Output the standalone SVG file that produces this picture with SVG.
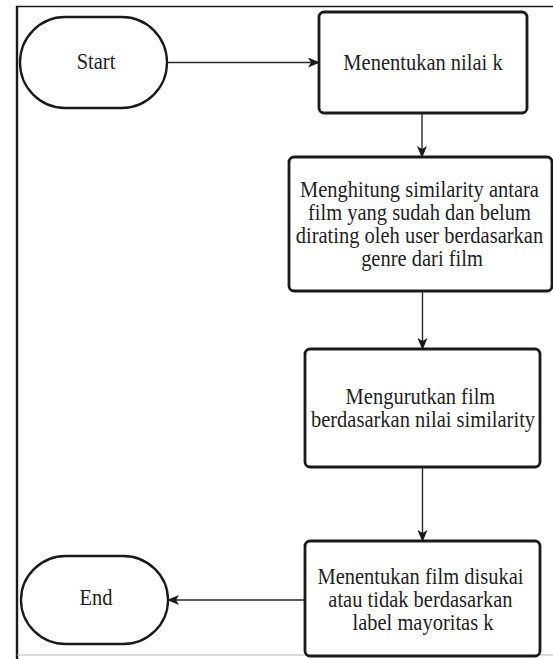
<svg xmlns="http://www.w3.org/2000/svg" width="553" height="659" viewBox="0 0 553 659">
  <defs>
    <marker id="arrow" viewBox="0 0 12 10" refX="11" refY="5" markerWidth="12" markerHeight="10" markerUnits="userSpaceOnUse" orient="auto">
      <path d="M0,0 L12,5 L0,10 L3,5 Z" fill="#1a1a1a"/>
    </marker>
  </defs>
  <style>
    .terminal { fill: #ffffff; stroke: #1a1a1a; stroke-width: 2.3; }
    .process { fill: #ffffff; stroke: #1a1a1a; stroke-width: 2.8; }
    .label { font-family: "Liberation Serif", "Times New Roman", serif; font-size: 20.5px; fill: #1e1e1e; text-anchor: middle; }
    .flow { fill: none; stroke: #2a2a2a; stroke-width: 1.4; marker-end: url(#arrow); }
  </style>

  <rect width="553" height="659" fill="#ffffff"/>

  <!-- outer frame -->
  <g id="frame">
    <line x1="16" y1="6.5" x2="553" y2="6.5" stroke="#1a1a1a" stroke-width="1.6"/>
    <line x1="17" y1="6" x2="17" y2="659" stroke="#1a1a1a" stroke-width="2.4"/>
    <line x1="17" y1="655" x2="553" y2="655" stroke="#b5b5b5" stroke-width="1"/>
  </g>

  <!-- connectors -->
  <g id="connectors">
    <line class="flow" x1="167" y1="62.5" x2="319" y2="62.5"/>
    <line class="flow" x1="422" y1="113" x2="422" y2="157"/>
    <line class="flow" x1="422.5" y1="291" x2="422.5" y2="349"/>
    <line class="flow" x1="422.5" y1="467" x2="422.5" y2="541"/>
    <line class="flow" x1="305" y1="600" x2="168" y2="600"/>
  </g>

  <!-- labels are drawn slightly tall: each text sits on its baseline with scale(1,1.12) -->
  <g id="start">
    <rect class="terminal" x="20" y="17" width="147" height="91" rx="45" ry="45.5"/>
    <text class="label" transform="translate(96,69) scale(1,1.12)">Start</text>
  </g>

  <g id="set-k">
    <rect class="process" x="319" y="12" width="208" height="101" rx="5"/>
    <text class="label" transform="translate(423,70) scale(1,1.12)">Menentukan nilai k</text>
  </g>

  <g id="similarity">
    <rect class="process" x="289" y="157" width="263" height="134" rx="5"/>
    <text class="label" transform="translate(422,196.5) scale(1,1.12)">
      <tspan x="0" y="0">Menghitung similarity antara</tspan>
      <tspan x="0" dy="20.8">film yang sudah dan belum</tspan>
      <tspan x="0" dy="20.8">dirating oleh user berdasarkan</tspan>
      <tspan x="0" dy="20.8">genre dari film</tspan>
    </text>
  </g>

  <g id="sort">
    <rect class="process" x="305" y="349" width="235" height="118" rx="5"/>
    <text class="label" transform="translate(423,404) scale(1,1.12)">
      <tspan x="0" y="0">Mengurutkan film</tspan>
      <tspan x="0" dy="20.6">berdasarkan nilai similarity</tspan>
    </text>
  </g>

  <g id="decide">
    <rect class="process" x="305" y="541" width="235" height="115" rx="5"/>
    <text class="label" transform="translate(423,583.5) scale(1,1.12)">
      <tspan x="0" y="0">Menentukan film disukai</tspan>
      <tspan x="0" dy="20.8">atau tidak berdasarkan</tspan>
      <tspan x="0" dy="20.8">label mayoritas k</tspan>
    </text>
  </g>

  <g id="end">
    <rect class="terminal" x="21" y="556" width="147" height="88" rx="45" ry="44"/>
    <text class="label" transform="translate(96,605) scale(1,1.12)">End</text>
  </g>
</svg>
